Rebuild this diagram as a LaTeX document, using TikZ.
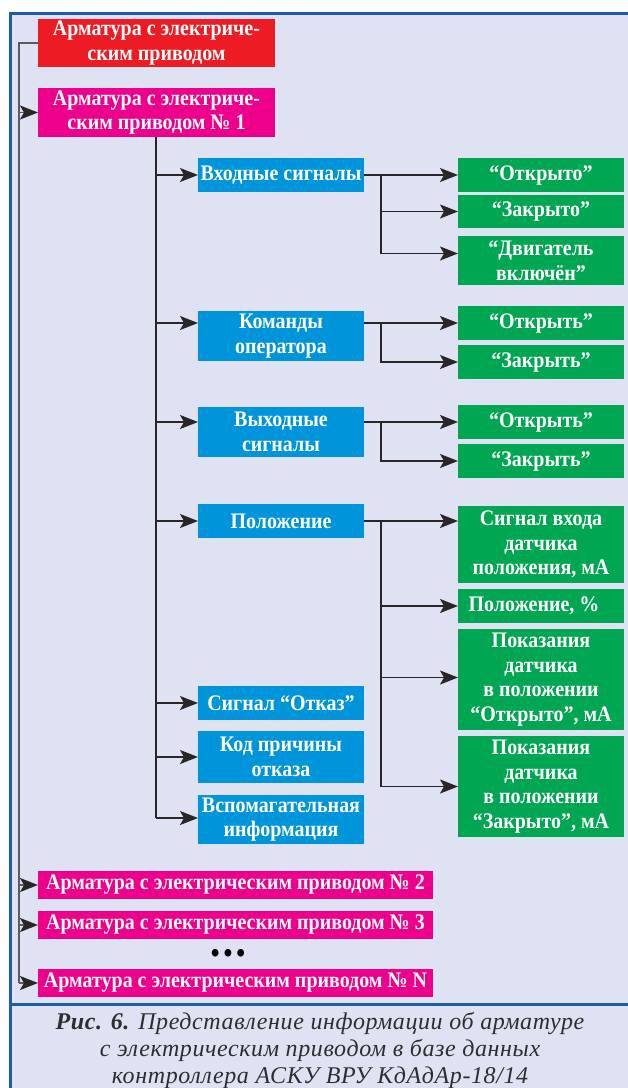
\documentclass[tikz,border=0pt]{standalone}
\usepackage{fontspec}
\setmainfont{Liberation Serif}
\newfontfamily\boxfont{Liberation Serif}[FakeStretch=0.9]
\newfontfamily\capfont{Liberation Serif}[LetterSpace=2.5]
\usetikzlibrary{arrows.meta,calc}
\definecolor{bgl}{HTML}{DFE2F3}
\definecolor{frameblue}{HTML}{1E5CA9}
\definecolor{cred}{HTML}{ED1C24}
\definecolor{cmag}{HTML}{EC008C}
\definecolor{cblue}{HTML}{0095DA}
\definecolor{cgreen}{HTML}{00A651}
\definecolor{lineclr}{HTML}{2A2627}
\definecolor{trunkclr}{HTML}{5A5A60}
\definecolor{capclr}{HTML}{2E2E2E}
\tikzset{
  box/.style={anchor=north west, inner sep=0pt, outer sep=0pt, text=white,
    font=\boxfont\bfseries\fontsize{22.2}{24.5}\selectfont, align=center},
  redbox/.style={box, fill=cred, minimum width=237pt},
  magbox/.style={box, fill=cmag},
  bluebox/.style={box, fill=cblue, minimum width=166pt},
  greenbox/.style={box, fill=cgreen, minimum width=166pt},
  link/.style={draw=lineclr, line width=1.3pt},
  arr/.style={link, -{Stealth[length=18pt,width=14pt,inset=4pt]}},
  trunk/.style={draw=trunkclr, line width=1.8pt},
  tarr/.style={trunk, -{Stealth[length=18pt,width=14pt,inset=4pt,color=lineclr]}},
  frame/.style={draw=frameblue, line width=3pt}
}
\begin{document}
\begin{tikzpicture}[x=1pt,y=-1pt]
\useasboundingbox (0,0) rectangle (628,1088);
\fill[white] (0,0) rectangle (628,1088);
\fill[bgl] (10,13) rectangle (628,1088);
\draw[frame] (9,13) -- (628,13);
\draw[frame] (10,13) -- (10,1088);
\draw[frame] (10,1004) -- (628,1004);

% top level
\node[redbox, minimum height=48pt] (red) at (38,19) {Арматура с электриче-\\ским приводом};
\node[magbox, minimum width=237pt, minimum height=49pt] (m1) at (38,88) {Арматура с электриче-\\ским приводом № 1};

% second level
\node[bluebox, minimum height=34pt] (vs) at (198,158) {Входные сигналы};
\node[bluebox, minimum height=50pt] (ko) at (198,311) {Команды\\оператора};
\node[bluebox, minimum height=50pt] (vy) at (198,407) {Выходные\\сигналы};
\node[bluebox, minimum height=34pt] (po) at (198,504) {Положение};
\node[bluebox, minimum height=34pt] (so) at (198,686) {Сигнал “Отказ”};
\node[bluebox, minimum height=52pt] (kp) at (198,731) {Код причины\\отказа};
\node[bluebox, minimum height=49pt] (vi) at (198,795) {Вспомагательная\\информация};

% third level
\node[greenbox, minimum height=34pt] (g1) at (458,158) {“Открыто”};
\node[greenbox, minimum height=33pt] (g2) at (458,195) {“Закрыто”};
\node[greenbox, minimum height=49pt] (g3) at (458,236) {“Двигатель\\включён”};
\node[greenbox, minimum height=34pt] (g4) at (458,306) {“Открыть”};
\node[greenbox, minimum height=34pt] (g5) at (458,345) {“Закрыть”};
\node[greenbox, minimum height=34pt] (g6) at (458,405) {“Открыть”};
\node[greenbox, minimum height=34pt] (g7) at (458,444) {“Закрыть”};
\node[greenbox, minimum height=77pt] (g8) at (458,506) {Сигнал входа\\датчика\\положения, мА};
\node[greenbox, minimum height=34pt] (g9) at (458,589) {Положение, \%\hspace{14pt}};
\node[greenbox, minimum height=101pt] (g10) at (458,629) {Показания\\датчика\\в положении\\“Открыто”, мА};
\node[greenbox, minimum height=101pt] (g11) at (458,736) {Показания\\датчика\\в положении\\“Закрыто”, мА};

% other valves
\node[magbox, minimum width=395pt, minimum height=28pt] (m2) at (38,871) {Арматура с электрическим приводом № 2};
\node[magbox, minimum width=395pt, minimum height=28pt] (m3) at (38,911) {Арматура с электрическим приводом № 3};
\node[font=\boxfont\bfseries\fontsize{28}{28}\selectfont, text=black, inner sep=0pt] (dots) at (228,956) {•\hspace{4pt}•\hspace{4pt}•};
\node[magbox, minimum width=395pt, minimum height=28pt] (mN) at (38,969) {Арматура с электрическим приводом № N};

% main trunk
\coordinate (t0) at (19,983);
\draw[trunk] (red.west) -| (t0);
\draw[tarr] (t0 |- m1.west) -- (m1.west);
\draw[tarr] (t0 |- m2.west) -- (m2.west);
\draw[tarr] (t0 |- m3.west) -- (m3.west);
\draw[tarr] (t0) -- (t0 -| mN.west);

% valve 1 trunk
\coordinate (u0) at (156,818);
\draw[link] (m1.south -| u0) -- (u0);
\draw[arr] (u0 |- vs.west) -- (vs.west);
\draw[arr] (u0 |- g4.west) -- (g4.west -| ko.west);
\draw[arr] (u0 |- g6.west) -- (g6.west -| vy.west);
\draw[arr] (u0 |- po.west) -- (po.west);
\draw[arr] (u0 |- so.west) -- (so.west);
\draw[arr] (u0 |- kp.west) -- (kp.west);
\draw[arr] (u0) -- (u0 -| vi.west);

% branches
\coordinate (b1) at (381,175);
\draw[arr] (vs.east |- g1.west) -- (g1.west);
\draw[arr] (b1) |- (g2.west);
\draw[arr] (b1) |- ([yshift=7pt]g3.west);

\coordinate (b2) at (381,323);
\draw[arr] (g4.west -| ko.east) -- (g4.west);
\draw[arr] (b2) |- (g5.west);

\coordinate (b3) at (381,422);
\draw[arr] (g6.west -| vy.east) -- (g6.west);
\draw[arr] (b3) |- (g7.west);

\coordinate (b4) at (381,521);
\draw[arr] (po.east) -- (po.east -| g8.west);
\draw[arr] (b4) |- (g9.west);
\draw[arr] (b4) |- ([yshift=2pt]g10.west);
\draw[arr] (b4) |- (g11.west);

% caption
\node[font=\capfont\itshape\fontsize{24}{27}\selectfont, text=capclr, align=center, inner sep=0pt] (cap) at (320,1050)
  {{\bfseries Рис. 6.} Представление информации об арматуре\\с электрическим приводом в базе данных\\контроллера АСКУ ВРУ КдАдАр-18/14};
\end{tikzpicture}
\end{document}
